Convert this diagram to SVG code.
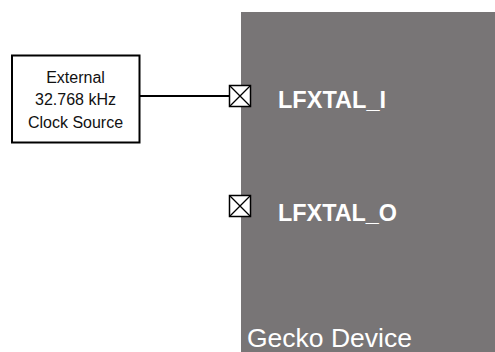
<svg xmlns="http://www.w3.org/2000/svg" width="495" height="352" viewBox="0 0 495 352">
<style>
.pin{fill:#fff;stroke:#000;stroke-width:1.5}
.x{stroke:#000;stroke-width:1.3}
.lbl{font-family:"Liberation Sans",Arial,sans-serif;fill:#fff}
.pl{font-size:24.5px;font-weight:bold}
.src{font-family:"Liberation Sans",Arial,sans-serif;font-size:16px;fill:#111;text-anchor:middle}
</style>
<g id="device">
<rect x="241" y="12" width="254" height="340" fill="#787576"/>
<text class="lbl" x="247" y="347" font-size="26.5">Gecko Device</text>
</g>
<g id="connectors">
<line x1="140" y1="96" x2="229.5" y2="96" stroke="#000" stroke-width="2"/>
</g>
<g id="clock-source">
<rect x="12" y="55.5" width="127.5" height="87" fill="#fff" stroke="#000" stroke-width="2"/>
<text class="src" x="75.5" y="82.5">External</text>
<text class="src" x="75.5" y="105">32.768 kHz</text>
<text class="src" x="75.5" y="127.5">Clock Source</text>
</g>
<g id="pin-lfxtal-i">
<rect class="pin" x="229.5" y="85.5" width="21" height="21"/>
<path class="x" d="M229.5 85.5L250.5 106.5M250.5 85.5L229.5 106.5"/>
<text class="lbl pl" x="278" y="107.5" textLength="108" lengthAdjust="spacingAndGlyphs">LFXTAL_I</text>
</g>
<g id="pin-lfxtal-o">
<rect class="pin" x="229.5" y="195.5" width="21" height="21"/>
<path class="x" d="M229.5 195.5L250.5 216.5M250.5 195.5L229.5 216.5"/>
<text class="lbl pl" x="278" y="221" textLength="119" lengthAdjust="spacingAndGlyphs">LFXTAL_O</text>
</g>
</svg>
